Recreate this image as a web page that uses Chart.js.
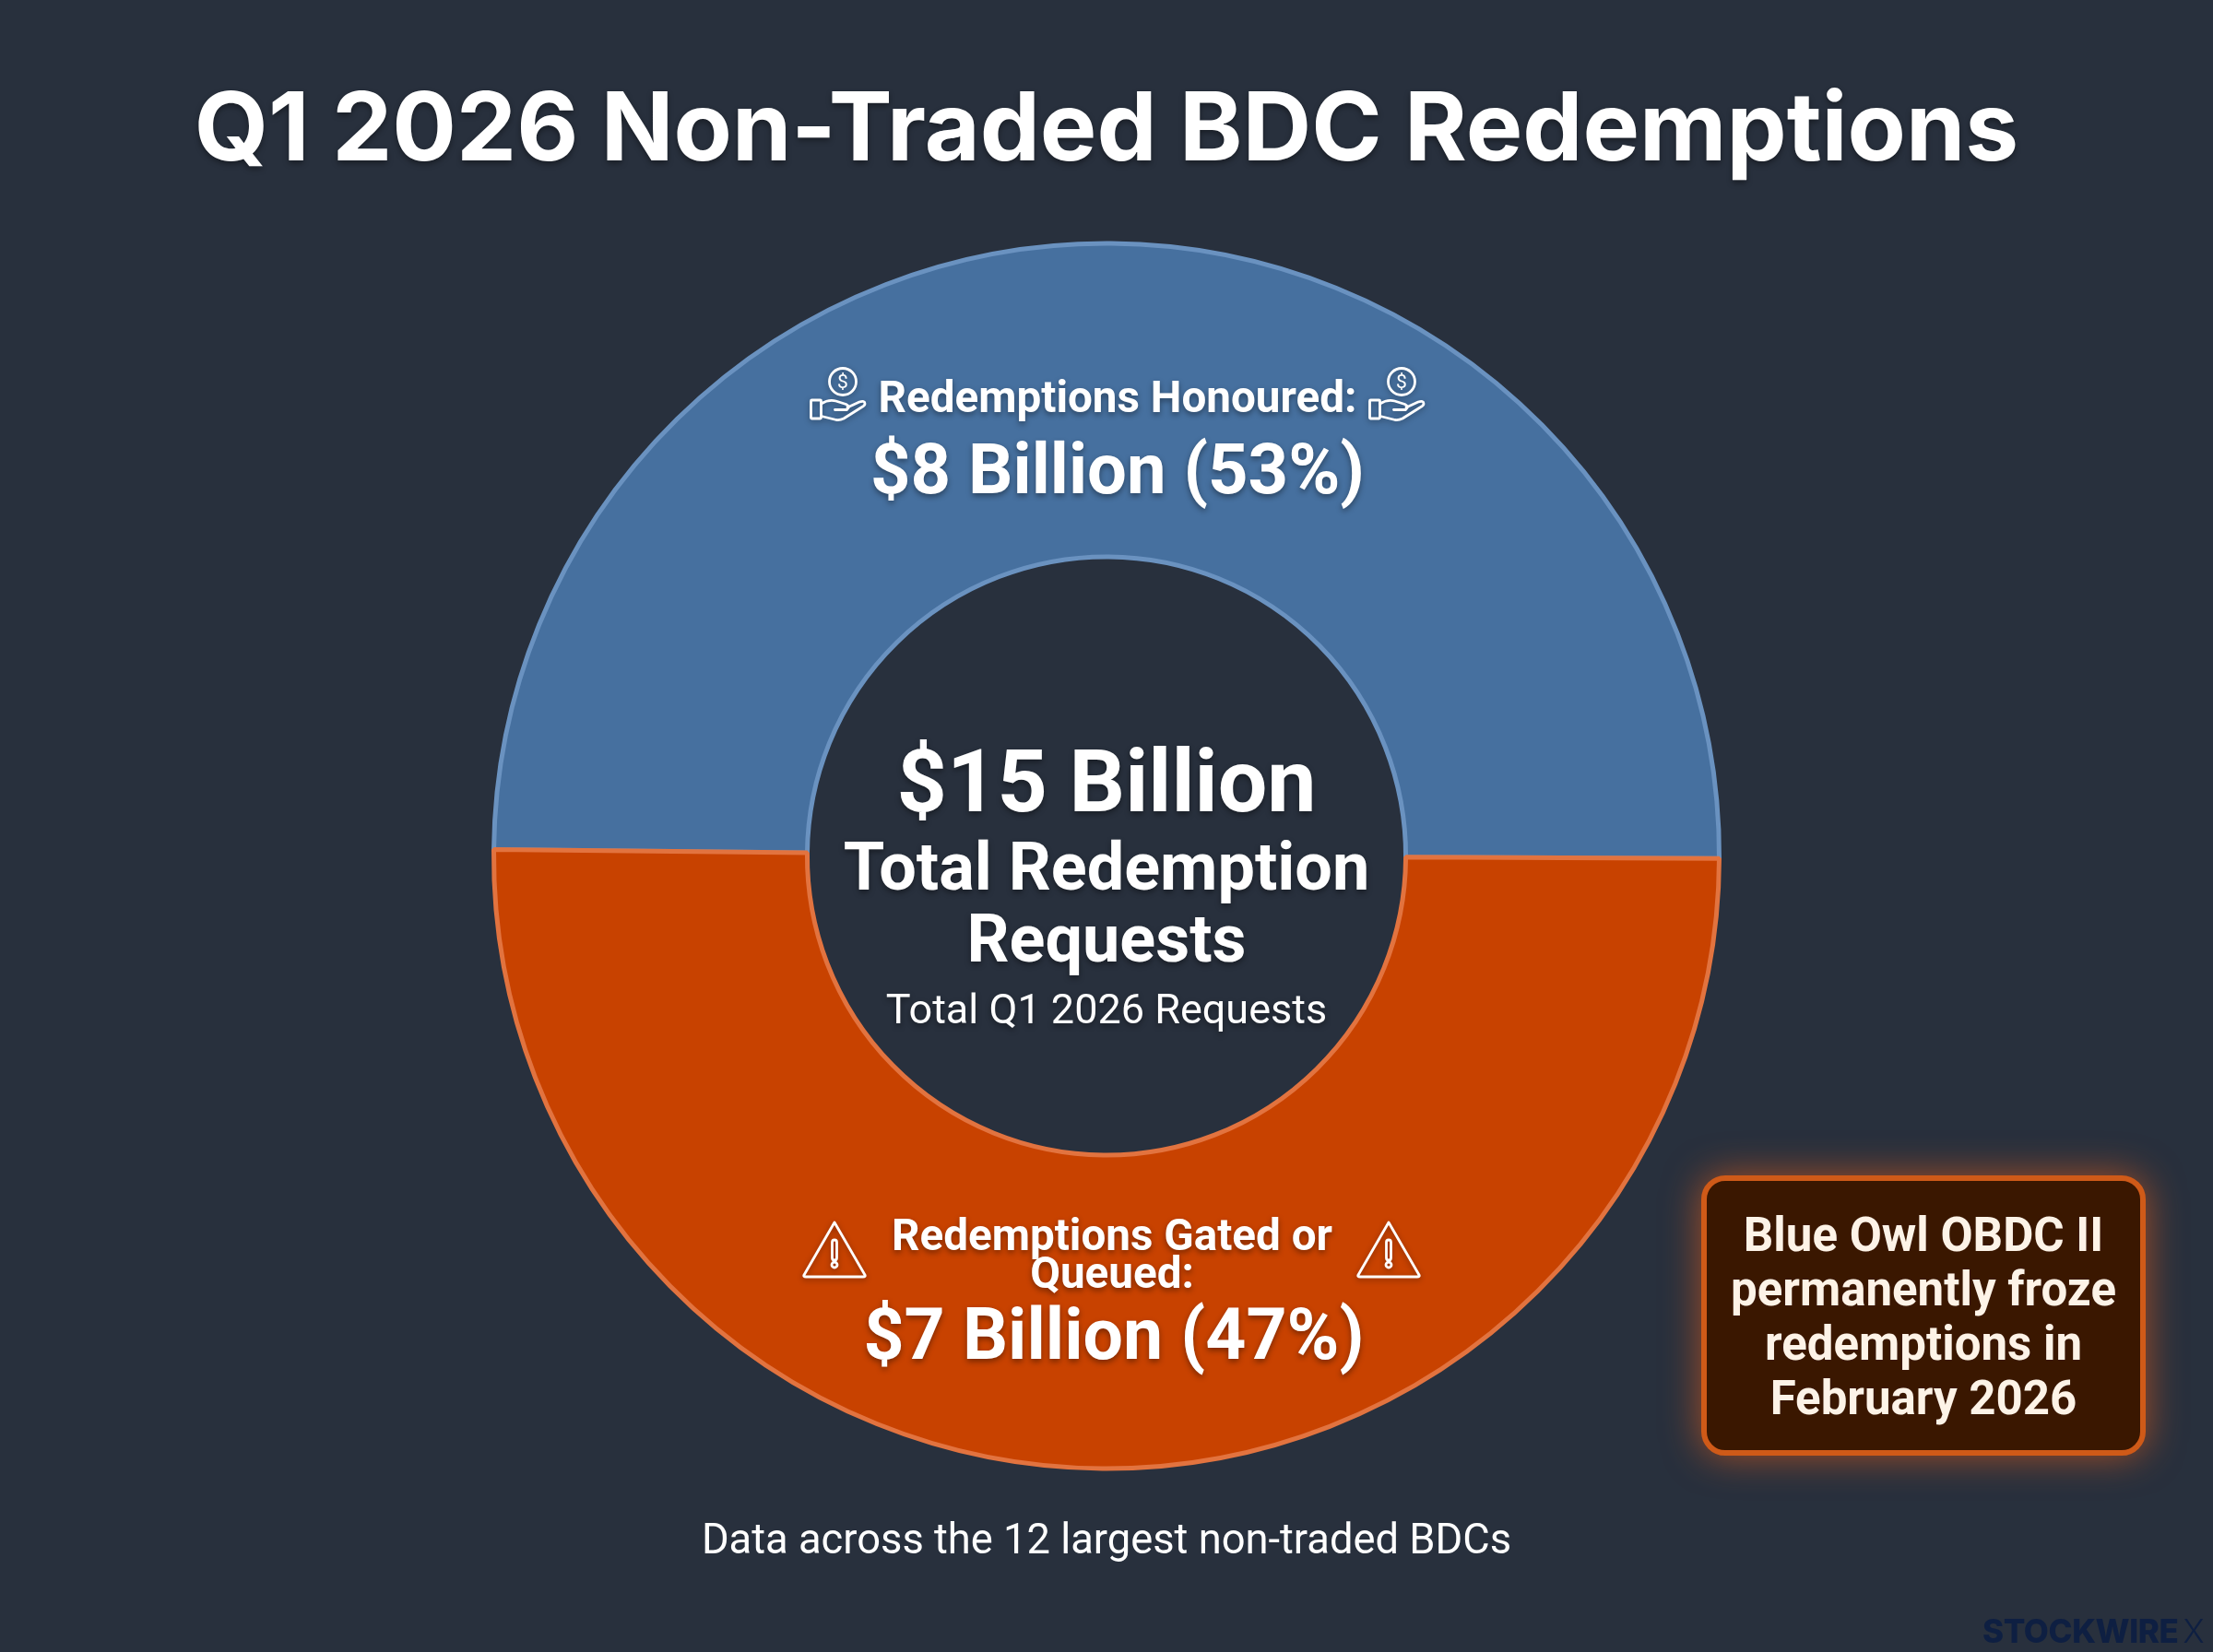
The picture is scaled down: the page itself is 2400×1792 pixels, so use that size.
<!DOCTYPE html>
<html>
<head>
<meta charset="utf-8">
<title>Q1 2026 Non-Traded BDC Redemptions</title>
<script src="https://cdn.jsdelivr.net/npm/chart.js@4"></script>
<style>
    html, body { margin: 0; padding: 0; }
    body { width: 2400px; height: 1792px; background: #28303d; position: relative; overflow: hidden; }
    canvas { position: absolute; left: 0; top: 0; }
    .line { position: absolute; white-space: nowrap; line-height: 1; transform: translateX(-50%); font-family: Roboto, sans-serif; color: #fff; }
    .shadow { text-shadow: 0 3px 6px rgba(0, 0, 0, .4); }
    .icon { position: absolute; fill: none; stroke: #fff; stroke-width: 2.8; stroke-linejoin: round; stroke-linecap: round; filter: drop-shadow(0 2px 3px rgba(0, 0, 0, .35)); }
    #note { position: absolute; left: 1845px; top: 1275px; width: 470px; height: 292px; border: 6px solid #cf5a18; border-radius: 26px; background: #3a1700; box-shadow: 0 0 40px rgba(235, 95, 25, .65); }
    #brand { position: absolute; left: 2150px; top: 1752px; font: 800 35px/1 Inter, sans-serif; color: #0e1f42; white-space: nowrap; letter-spacing: -.4px; }
    #brand span { font-weight: 300; margin-left: 5px; }
</style>
</head>
<body>
<canvas id="myChart" width="2400" height="1792"></canvas>
<div id="note"></div>
<div id="brand">STOCKWIRE<span>X</span></div>

<svg class="icon" style="left:878px;top:398px" width="62" height="60" viewBox="0 0 62 60"><use href="#hand"/></svg>
<svg class="icon" style="left:1484px;top:398px" width="62" height="60" viewBox="0 0 62 60"><use href="#hand"/></svg>
<svg class="icon" style="left:870px;top:1323px" width="70" height="64" viewBox="0 0 70 64"><use href="#warn"/></svg>
<svg class="icon" style="left:1471px;top:1323px" width="70" height="64" viewBox="0 0 70 64"><use href="#warn"/></svg>

<svg width="0" height="0" style="position:absolute">
    <defs>
        <g id="hand">
            <circle cx="36" cy="16" r="14.500"/>
            <text x="36" y="23" text-anchor="middle" font-family="Roboto" font-size="21" fill="#fff" stroke="none">$</text>
            <rect x="1.500" y="36" width="11" height="20" rx="1"/>
            <path d="M12.500 40 q8 -5 16 -3 l11 3.500 q5 2.500 1 6 l-13 0"/>
            <path d="M41 44 l13 -6 q6 -2 6 2 q0 2 -4 4 l-19 12 q-4 2 -8 1.500 l-16 -4"/>
        </g>
        <g id="warn">
            <path d="M35 3 L68 60 Q69 62 66 62 L4 62 Q1 62 2 60 Z"/>
            <rect x="32.500" y="22" width="5" height="22" rx="2.500"/>
            <circle cx="35" cy="49" r="3"/>
        </g>
    </defs>
</svg>

<script>
// the slices
const categories = ['Redemptions Honoured', 'Redemptions Gated or Queued'];
// share of the ring each slice takes in the picture (it is drawn close to half and half)
const sliceShares = [49.9, 50.1];
const billions = [8, 7];
const percents = [53, 47];
const total = 15;

const sliceColors = ['#46709f', '#c84200'];
const edgeColors = ['#6a92c0', '#e2733f'];

// the text lines: text, centre x, baseline y, size, weight, font
const textLines = [
    ['Q1 2026 Non-Traded BDC Redemptions', 1200, 174, 103.4, 700, 'Inter'],
    [categories[0] + ':', 1212, 448, 47.6, 700],
    ['$' + billions[0] + ' Billion (' + percents[0] + '%)', 1212, 535, 76, 700],
    ['Redemptions Gated or', 1206, 1357, 47.6, 700],
    ['Queued:', 1206, 1398, 47.6, 700],
    ['$' + billions[1] + ' Billion (' + percents[1] + '%)', 1208, 1475, 77, 700],
    ['$' + total + ' Billion', 1200, 880, 95, 700],
    ['Total Redemption', 1200, 966, 72, 700],
    ['Requests', 1200, 1044, 72, 700],
    ['Total Q1 2026 Requests', 1200, 1110, 45, 400],
    ['Data across the 12 largest non-traded BDCs', 1200, 1685, 45.3, 400],
];
const noteLines = ['Blue Owl OBDC II', 'permanently froze', 'redemptions in', 'February 2026'];
const noteBaselines = [1357, 1416, 1475, 1534];

for (let i = 0; i < textLines.length; i++) {
    const [text, x, baseline, size, weight, font] = textLines[i];
    addLine(text, x, baseline, size, weight, font, i < 10);
}
for (let i = 0; i < noteLines.length; i++) {
    const el = addLine(noteLines[i], 2086, noteBaselines[i], 51, 700);
    el.style.color = '#fdf3e7';
}

function addLine(text, x, baseline, size, weight, font, shadow) {
    const el = document.createElement('div');
    el.className = shadow ? 'line shadow' : 'line';
    el.textContent = text;
    el.style.left = x + 'px';
    el.style.top = (baseline - size * (font === 'Inter' ? 0.864 : 0.842)) + 'px';
    el.style.fontSize = size + 'px';
    el.style.fontWeight = weight;
    if (font) {
        el.style.fontFamily = font + ', sans-serif';
    }
    document.body.append(el);
    return el;
}

// making the ring
const ctx = document.getElementById('myChart').getContext('2d');
const myChart = new Chart(ctx, {
    type: 'doughnut',
    data: {
        labels: categories,
        datasets: [
            {
                data: sliceShares,
                backgroundColor: sliceColors,
                borderColor: edgeColors,
                borderWidth: 5
            }
        ]
    },
    options: {
        responsive: false,
        animation: false,
        devicePixelRatio: 1,
        radius: 664.5,
        cutout: 327,
        rotation: -89.4,
        layout: {
            padding: { left: 528, right: 528, top: 256, bottom: 191 }
        },
        plugins: {
            legend: { display: false },
            tooltip: { enabled: false }
        }
    }
});
</script>
</body>
</html>
